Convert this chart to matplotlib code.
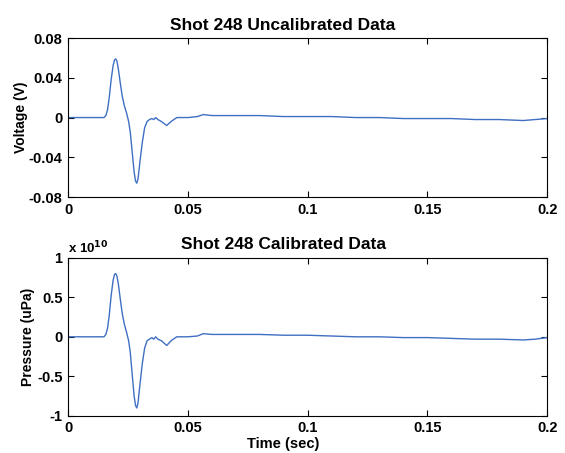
import numpy as np
import matplotlib
matplotlib.use("Agg")
import matplotlib.pyplot as plt

# time knots (sec)
t_v = [0.0, 0.010, 0.0150, 0.0158, 0.0165, 0.0172, 0.0180, 0.0188, 0.0194, 0.0199,
       0.0204, 0.0210, 0.0218, 0.0226, 0.0235, 0.0245, 0.0253, 0.0260, 0.0268, 0.0276,
       0.0282, 0.0287, 0.0292, 0.0300, 0.0310, 0.0320, 0.0330, 0.0340, 0.0350, 0.0358,
       0.0366, 0.0375, 0.0390, 0.0412, 0.0430, 0.0454, 0.0500, 0.0540, 0.0565, 0.0600,
       0.0700, 0.0800, 0.0900, 0.1000, 0.1100, 0.1200, 0.1300, 0.1400, 0.1500, 0.1600,
       0.1700, 0.1800, 0.1900, 0.1950, 0.2000]
# voltage (V), top panel
volt = [0.0, 0.0, 0.0, 0.002, 0.008, 0.020, 0.038, 0.052, 0.058, 0.059,
        0.057, 0.049, 0.035, 0.022, 0.012, 0.004, -0.004, -0.015, -0.035, -0.055,
        -0.064, -0.066, -0.062, -0.045, -0.025, -0.010, -0.004, -0.002, -0.001, -0.002,
        0.000, -0.002, -0.004, -0.008, -0.004, 0.000, 0.000, 0.001, 0.003, 0.002,
        0.002, 0.002, 0.001, 0.001, 0.001, 0.000, 0.000, -0.001, -0.001, -0.001,
        -0.002, -0.002, -0.003, -0.002, -0.001]

# calibrated pressure (uPa, in units of 1e10), bottom panel
press = [0.0, 0.0, 0.0, 0.03, 0.11, 0.27, 0.52, 0.71, 0.79, 0.80,
         0.77, 0.67, 0.48, 0.30, 0.16, 0.05, -0.05, -0.20, -0.48, -0.75,
         -0.87, -0.90, -0.84, -0.61, -0.34, -0.14, -0.05, -0.03, -0.01, -0.03,
         0.0, -0.03, -0.05, -0.11, -0.05, 0.0, 0.0, 0.01, 0.04, 0.03,
         0.03, 0.03, 0.02, 0.02, 0.01, 0.0, 0.0, -0.01, -0.01, -0.02,
         -0.03, -0.03, -0.04, -0.03, -0.01]

plt.rcParams['font.family'] = ['Liberation Sans', 'DejaVu Sans']
plt.rcParams['font.weight'] = 'bold'

fig = plt.figure(figsize=(5.65, 4.53), dpi=100)
ax1 = fig.add_axes([0.1204, 0.565, 0.848, 0.351])
ax2 = fig.add_axes([0.1204, 0.082, 0.848, 0.349])

line_col = '#3f6fc2'
ticks_x = [0, 0.05, 0.1, 0.15, 0.2]
tick_lab_x = ['0', '0.05', '0.1', '0.15', '0.2']
title_x = (283 - 68) / 479.0  # titles sit at the figure centre

ax1.plot(t_v, volt, color=line_col, lw=1.0)
ax1.set_xlim(0, 0.2)
ax1.set_ylim(-0.08, 0.08)
ax1.set_xticks(ticks_x)
ax1.set_xticklabels(tick_lab_x)
ax1.set_yticks([-0.08, -0.04, 0, 0.04, 0.08])
ax1.set_yticklabels(['-0.08', '-0.04', '0', '0.04', '0.08'])
ax1.set_title('Shot 248 Uncalibrated Data', fontsize=12.5, fontweight='bold',
              pad=6, x=title_x)
ax1.set_ylabel('Voltage (V)', fontsize=10, fontweight='bold')
ax1.yaxis.set_label_coords(-0.084, 0.5)

ax2.plot(t_v, press, color=line_col, lw=1.0)
ax2.set_xlim(0, 0.2)
ax2.set_ylim(-1, 1)
ax2.set_xticks(ticks_x)
ax2.set_xticklabels(tick_lab_x)
ax2.set_yticks([-1, -0.5, 0, 0.5, 1])
ax2.set_yticklabels(['-1', '-0.5', '0', '0.5', '1'])
ax2.set_title('Shot 248 Calibrated Data', fontsize=12.5, fontweight='bold',
              pad=6, x=title_x)
ax2.set_ylabel('Pressure (uPa)', fontsize=10, fontweight='bold')
ax2.yaxis.set_label_coords(-0.069, 0.5)
ax2.set_xlabel('Time (sec)', fontsize=10.5, fontweight='bold')
ax2.xaxis.set_label_coords(title_x, -0.135)
ax2.text(0.0, 1.01, r'x 10$^{10}$', transform=ax2.transAxes, fontsize=9.5,
         fontweight='bold', ha='left', va='bottom')

for ax in (ax1, ax2):
    ax.tick_params(direction='in', top=True, right=True, length=4, width=0.8,
                   labelsize=10.5, pad=4)
    for lab in ax.get_xticklabels() + ax.get_yticklabels():
        lab.set_fontweight('bold')
    for s in ax.spines.values():
        s.set_linewidth(0.8)

fig.savefig('out.png', dpi=100)
